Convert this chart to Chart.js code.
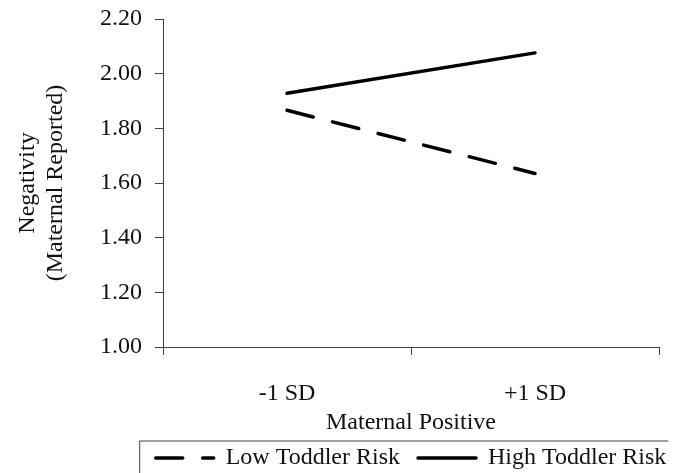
<!DOCTYPE html>
<html>
<head>
<meta charset="utf-8">
<script src="https://cdn.jsdelivr.net/npm/chart.js@4.4.0/dist/chart.umd.min.js"></script>
<style>
  html, body { margin: 0; padding: 0; background: #fff; }
  #wrap { width: 685px; height: 473px; }
</style>
</head>
<body>
<div id="wrap"><canvas id="chart"></canvas></div>
<script>
const categories = ['-1 SD', '+1 SD'];
const lowRisk = [1.866, 1.635];
const highRisk = [1.928, 2.076];
const yMin = 1.00, yMax = 2.20, yStep = 0.20;

const axisColor = '#404040';

Chart.defaults.font.family = "'Liberation Serif', 'Times New Roman', serif";
Chart.defaults.font.size = 24;
Chart.defaults.color = '#111';

// legend sits under the plot area (not the whole canvas) and gets an open frame
const legendFrame = {
    id: 'legendFrame',
    afterLayout(chart) {
        const lg = chart.legend;
        const dx = (chart.chartArea.left + chart.chartArea.right) / 2 - (lg.left + lg.right) / 2;
        lg.left += dx;
        lg.right += dx;
    },
    afterDraw(chart) {
        const boxes = chart.legend.legendHitBoxes;
        if (!boxes || !boxes.length) return;
        const first = boxes[0], last = boxes[boxes.length - 1];
        const y = first.top + first.height / 2 - 17;
        const ctx = chart.ctx;
        ctx.save();
        ctx.strokeStyle = axisColor;
        ctx.lineWidth = 1;
        ctx.beginPath();
        ctx.moveTo(first.left - 16, chart.height);
        ctx.lineTo(first.left - 16, y);
        ctx.lineTo(last.left + last.width + 2, y);
        ctx.stroke();
        ctx.restore();
    }
};

new Chart(document.getElementById('chart'), {
    type: 'line',
    data: {
        labels: categories,
        datasets: [{
            label: 'Low Toddler Risk',
            data: lowRisk,
            borderColor: '#000',
            backgroundColor: '#000',
            borderWidth: 3.5,
            borderDash: [27, 20],
            borderCapStyle: 'round',
            pointRadius: 0
        }, {
            label: 'High Toddler Risk',
            data: highRisk,
            borderColor: '#000',
            backgroundColor: '#000',
            borderWidth: 3.5,
            borderCapStyle: 'round',
            pointRadius: 0
        }]
    },
    options: {
        responsive: true,
        maintainAspectRatio: false,
        animation: false,
        layout: { padding: { left: 0, right: 26, top: 0, bottom: -7 } },
        plugins: {
            tooltip: { enabled: false },
            legend: {
                position: 'bottom',
                labels: {
                    usePointStyle: true,
                    pointStyleWidth: 58,
                    padding: 18,
                    color: '#111',
                    generateLabels(chart) {
                        const items = Chart.defaults.plugins.legend.labels.generateLabels(chart);
                        items.forEach((it, i) => {
                            const ds = chart.data.datasets[i];
                            it.pointStyle = 'line';
                            it.lineDash = ds.borderDash || [];
                            it.lineWidth = ds.borderWidth;
                            it.lineCap = ds.borderCapStyle;
                            it.strokeStyle = ds.borderColor;
                        });
                        return items;
                    }
                }
            }
        },
        scales: {
            x: {
                offset: true,
                grid: { offset: true, drawOnChartArea: false, tickLength: 8, color: axisColor },
                border: { color: axisColor },
                ticks: { padding: 24, color: '#111' },
                title: { display: true, text: 'Maternal Positive', color: '#111', padding: { top: 1, bottom: -9 } },
                afterFit(scale) { scale.height = 81; }
            },
            y: {
                min: yMin,
                max: yMax,
                grid: { drawOnChartArea: false, tickLength: 8, color: axisColor },
                border: { color: axisColor },
                ticks: {
                    stepSize: yStep,
                    padding: 13,
                    color: '#111',
                    callback: v => v.toFixed(2)
                },
                title: {
                    display: true,
                    text: ['Negativity', '(Maternal Reported)'],
                    color: '#111',
                    padding: { top: 13, bottom: 0 }
                },
                afterFit(scale) {
                    scale.width = 163;
                    scale.paddingTop = 19;
                }
            }
        }
    },
    plugins: [legendFrame]
});
</script>
</body>
</html>
